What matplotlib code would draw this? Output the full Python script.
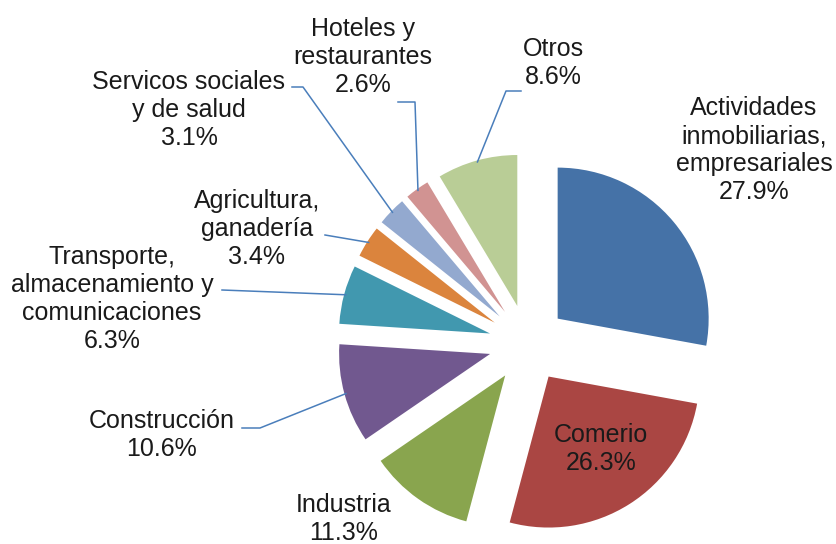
import numpy as np
import matplotlib.pyplot as plt

# Chart data
sectors = [
    "Actividades\ninmobiliarias,\nempresariales",
    "Comerio",
    "Industria",
    "Construcción",
    "Transporte,\nalmacenamiento y\ncomunicaciones",
    "Agricultura,\nganadería",
    "Servicos sociales\ny de salud",
    "Hoteles y\nrestaurantes",
    "Otros",
]
shares = [27.9, 26.3, 11.3, 10.6, 6.3, 3.4, 3.1, 2.6, 8.6]
colors = ["#4572A7", "#AA4643", "#89A54E", "#71588F", "#4198AF",
          "#DB843D", "#93A9CF", "#D19392", "#B9CD96"]

# Layout (pixel coordinates of the 837x544 image, y measured from the top)
W, H = 837, 544
pie_center = (527.7, 343.6)
pie_radius = 151
explode_px = 39

# label centre for every slice
label_pos = [(754, 150), (601, 449), (344, 519), (162, 435), (112, 299),
             (257, 229), (189, 110), (363, 57), (553, 63)]
# start of the leader line at the text side (None = no leader)
leader_start = [None, None, None, (242, 428), (222, 290),
                (325, 235), (292, 87), (398, 102), (521, 91)]
leader_elbow = [None, None, None, (260, 428), None,
                None, (303, 87), (415, 102), (506, 91)]


def px(x, y):
    return x, H - y


plt.rcParams["font.family"] = ["Liberation Sans", "DejaVu Sans"]

fig = plt.figure(figsize=(W / 100, H / 100), dpi=100)
ax = fig.add_axes([0, 0, 1, 1])

wedges, _ = ax.pie(
    shares,
    colors=colors,
    startangle=90,
    counterclock=False,
    explode=[explode_px] * len(shares),
    radius=pie_radius,
    center=px(*pie_center),
    wedgeprops={"linewidth": 0},
)

ax.set_xlim(0, W)
ax.set_ylim(0, H)
ax.set_aspect("equal")
ax.axis("off")

for i, w in enumerate(wedges):
    text = f"{sectors[i]}\n{shares[i]:.1f}%"
    x, y = px(*label_pos[i])
    ax.text(x, y, text, ha="center", va="center", multialignment="center",
            fontsize=18, color="#1a1a1a")

    if leader_start[i] is None:
        continue
    mid = np.deg2rad((w.theta1 + w.theta2) / 2)
    end = (w.center[0] + w.r * 0.99 * np.cos(mid),
           w.center[1] + w.r * 0.99 * np.sin(mid))
    pts = [px(*leader_start[i])]
    if leader_elbow[i] is not None:
        pts.append(px(*leader_elbow[i]))
    pts.append(end)
    xs, ys = zip(*pts)
    ax.plot(xs, ys, color="#4A7EBB", linewidth=1.1)

plt.savefig("out.png", dpi=100)
